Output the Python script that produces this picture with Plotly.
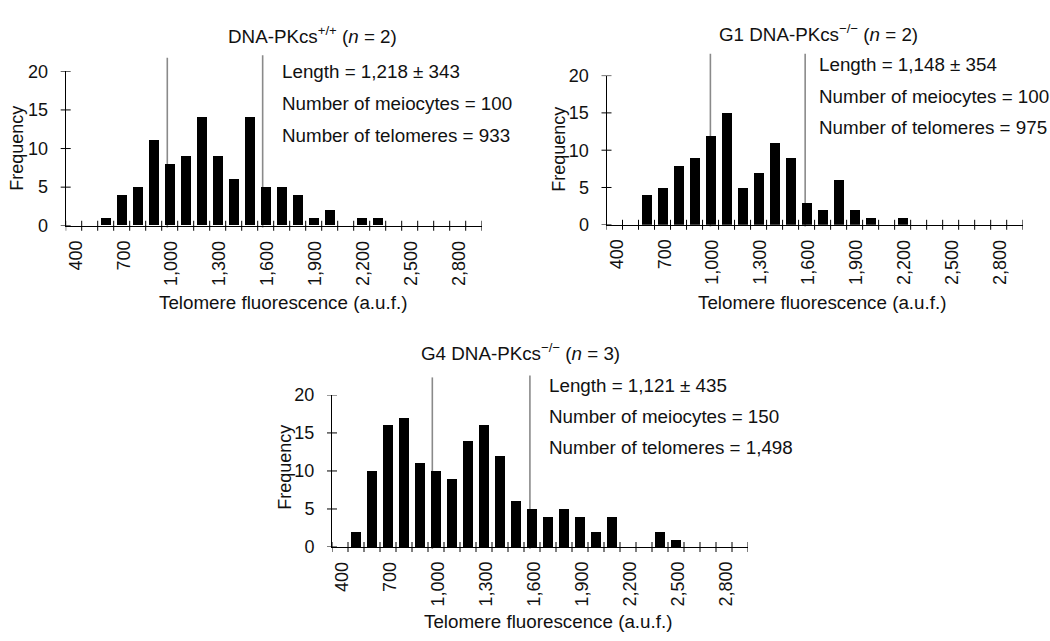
import plotly.graph_objects as go

# Histogram bins (a.u.f.), one bar per 100-unit bin
bins = [400, 500, 600, 700, 800, 900, 1000, 1100, 1200, 1300, 1400, 1500, 1600,
        1700, 1800, 1900, 2000, 2100, 2200, 2300, 2400, 2500, 2600, 2700, 2800, 2900]

# Frequencies per bin
freq_wt = [0, 0, 1, 4, 5, 11, 8, 9, 14, 9, 6, 14, 5, 5, 4, 1, 2, 0, 1, 1, 0, 0, 0, 0, 0, 0]
freq_g1 = [0, 0, 4, 5, 8, 9, 12, 15, 5, 7, 11, 9, 3, 2, 6, 2, 1, 0, 1, 0, 0, 0, 0, 0, 0, 0]
freq_g4 = [0, 2, 10, 16, 17, 11, 10, 9, 14, 16, 12, 6, 5, 4, 5, 4, 2, 4, 0, 0, 2, 1, 0, 0, 0, 0]

# Reference lines (a.u.f.)
lines_wt = [985, 1581]
lines_g1 = [999, 1591]
lines_g4 = [977, 1587]

x_tick_vals = [400, 700, 1000, 1300, 1600, 1900, 2200, 2500, 2800]
x_tick_text = ["400", "700", "1,000", "1,300", "1,600", "1,900", "2,200", "2,500", "2,800"]
y_tick_vals = [0, 5, 10, 15, 20]

titles = ["DNA-PKcs<sup>+/+</sup> (<i>n</i> = 2)",
          "G1 DNA-PKcs<sup>\u2212/\u2212</sup> (<i>n</i> = 2)",
          "G4 DNA-PKcs<sup>\u2212/\u2212</sup> (<i>n</i> = 3)"]
lengths = ["1,218 \u00b1 343", "1,148 \u00b1 354", "1,121 \u00b1 435"]
meiocytes = ["100", "100", "150"]
telomeres = ["933", "975", "1,498"]

W, H = 1050, 641
FONT = "Liberation Sans, Arial, Helvetica, sans-serif"
FS_TEXT = 18.8
FS_TICK = 18
INK = "#111"
BIN_W = 100
X_RANGE = [bins[0] - BIN_W / 2, bins[-1] + BIN_W / 2]

# Panel boxes in pixels: plot left, right, y=0 row, y=20 row, plus text anchors
panels = [
    dict(l=65.7, r=481.7, b=222.7, t=63.3, title=(312, 25.5), stats=(279.5, [63.3, 96.7, 129.3]),
         xtitle=(283, 301.7), ytitle=(16.7, 142.5), line_tops=[1.088, 1.104]),
    dict(l=606.5, r=1022.7, b=221.7, t=67.7, title=(818, 23.7), stats=(817.0, [56, 89.3, 121]),
         xtitle=(821.5, 301.7), ytitle=(558.3, 144), line_tops=[1.147, 1.147]),
    dict(l=332.0, r=748.0, b=554.3, t=397.3, title=(520.5, 352.5), stats=(547.0, [388, 420, 452]),
         xtitle=(548, 631.7), ytitle=(285, 472.5), line_tops=[1.115, 1.127]),
]
series = [freq_wt, freq_g1, freq_g4]
ref_lines = [lines_wt, lines_g1, lines_g4]


def px(x):
    return x / W


def py(y):
    return 1 - y / H


fig = go.Figure()
shapes = []
annotations = []
layout_axes = {}

for i, (p, freq, rl) in enumerate(zip(panels, series, ref_lines), start=1):
    xa = "x" if i == 1 else f"x{i}"
    ya = "y" if i == 1 else f"y{i}"
    fig.add_trace(go.Bar(
        x=bins, y=freq, width=62, xaxis=xa, yaxis=ya,
        marker=dict(color="black", line=dict(width=0)), showlegend=False,
        hoverinfo="x+y",
    ))
    layout_axes[f"xaxis{'' if i == 1 else i}"] = dict(
        domain=[px(p["l"]), px(p["r"])], anchor=ya, range=X_RANGE,
        showline=True, linecolor="black", linewidth=1, showgrid=False, zeroline=False,
        ticks="", tickvals=x_tick_vals, showticklabels=False,
    )
    layout_axes[f"yaxis{'' if i == 1 else i}"] = dict(
        domain=[py(p["b"]), py(p["t"])], anchor=xa, range=[0, 20],
        showline=True, linecolor="black", linewidth=1, showgrid=False, zeroline=False,
        ticks="", tickvals=y_tick_vals, tickfont=dict(family=FONT, size=FS_TICK, color=INK),
        ticklabelstandoff=13,
    )
    xd, yd = f"{xa} domain", f"{ya} domain"
    # crossing tick marks at bin edges
    edges = [b - BIN_W / 2 for b in bins] + [bins[-1] + BIN_W / 2]
    for e in edges:
        shapes.append(dict(type="line", xref=xa, yref=yd, x0=e, x1=e,
                           ysizemode="pixel", yanchor=0, y0=-5, y1=5,
                           line=dict(color="black", width=1)))
    for v in y_tick_vals:
        shapes.append(dict(type="line", xref=xd, yref=ya, y0=v, y1=v,
                           xsizemode="pixel", xanchor=0, x0=-5, x1=5,
                           line=dict(color="black", width=1)))
    # rotated x tick labels, top-aligned under the axis
    for v, t in zip(x_tick_vals, x_tick_text):
        annotations.append(dict(text=t, x=v, y=0, xref=xa, yref=yd, textangle=-90,
                                xanchor="center", yanchor="top", yshift=-13, xshift=2,
                                showarrow=False,
                                font=dict(family=FONT, size=FS_TICK, color=INK)))
    # grey reference lines
    for v, top in zip(rl, p["line_tops"]):
        shapes.append(dict(type="line", xref=xa, yref=yd, x0=v, x1=v, y0=-0.012, y1=top,
                           line=dict(color="#8a8a8a", width=1.6), layer="below"))
    # titles and labels
    tx, ty = p["title"]
    annotations.append(dict(text=titles[i - 1], x=px(tx), y=py(ty), xref="paper", yref="paper",
                            xanchor="center", yanchor="middle", showarrow=False,
                            font=dict(family=FONT, size=FS_TEXT, color=INK)))
    sx, sys_ = p["stats"]
    stat_text = [f"Length = {lengths[i - 1]}",
                 f"Number of meiocytes = {meiocytes[i - 1]}",
                 f"Number of telomeres = {telomeres[i - 1]}"]
    for t, yy in zip(stat_text, sys_):
        annotations.append(dict(text=t, x=px(sx), y=py(yy), xref="paper", yref="paper",
                                xanchor="left", yanchor="middle", showarrow=False,
                                font=dict(family=FONT, size=FS_TEXT, color=INK)))
    ax_x, ax_y = p["xtitle"]
    annotations.append(dict(text="Telomere fluorescence (a.u.f.)", x=px(ax_x), y=py(ax_y),
                            xref="paper", yref="paper", xanchor="center", yanchor="middle",
                            showarrow=False, font=dict(family=FONT, size=FS_TEXT, color=INK)))
    ay_x, ay_y = p["ytitle"]
    annotations.append(dict(text="Frequency", x=px(ay_x), y=py(ay_y), textangle=-90,
                            xref="paper", yref="paper", xanchor="center", yanchor="middle",
                            showarrow=False, font=dict(family=FONT, size=FS_TICK, color=INK)))

fig.update_layout(
    width=W, height=H, margin=dict(l=0, r=0, t=0, b=0),
    paper_bgcolor="white", plot_bgcolor="white",
    shapes=shapes, annotations=annotations, bargap=0,
    **layout_axes,
)

fig.write_html("out.html")
